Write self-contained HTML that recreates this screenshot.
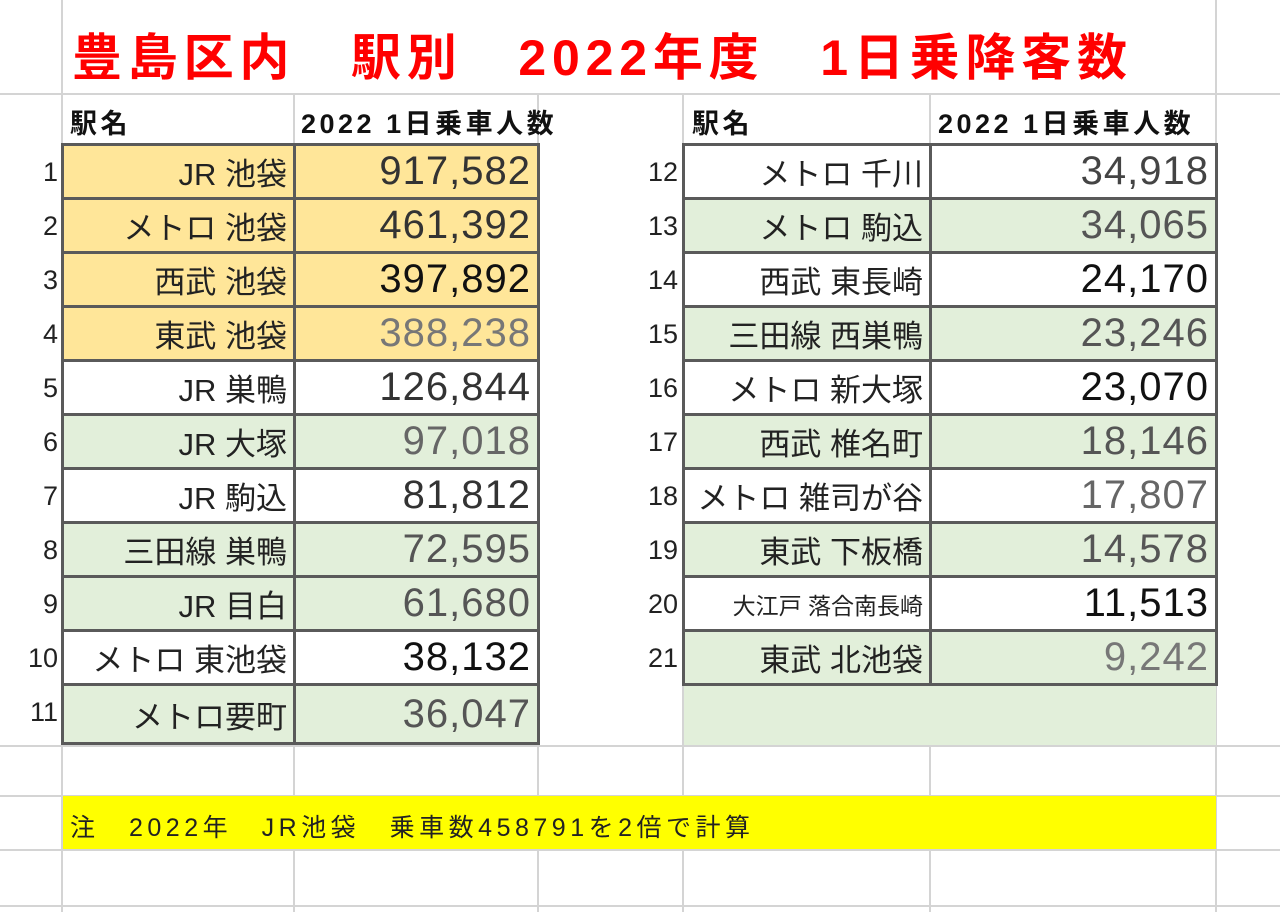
<!DOCTYPE html>
<html><head><meta charset="utf-8"><style>
body{margin:0;width:1280px;height:912px;overflow:hidden;background:#fff;font-family:"Liberation Sans","Noto Sans CJK JP",sans-serif;position:relative}
.a{position:absolute;box-sizing:border-box}
.g{background:#d4d4d4}
.c{border:3px solid #5a5a5a;display:flex;align-items:center;justify-content:flex-end;padding-right:6px;color:#222;font-size:31px}
.n{font-size:40px;padding-right:6px;color:#333;letter-spacing:1px}
.rn{font-size:27px;color:#222;text-align:right;width:58px;left:0}
.h{font-size:27px;font-weight:bold;color:#111;letter-spacing:3.5px}
</style></head><body>
<div class="a g" style="left:0;top:93px;width:1280px;height:2px"></div>
<div class="a g" style="left:0;top:745px;width:1280px;height:2px"></div>
<div class="a g" style="left:0;top:795px;width:1280px;height:2px"></div>
<div class="a g" style="left:0;top:849px;width:1280px;height:2px"></div>
<div class="a g" style="left:0;top:905px;width:1280px;height:2px"></div>
<div class="a g" style="left:61px;top:0;width:2px;height:912px"></div>
<div class="a g" style="left:293px;top:93px;width:2px;height:819px"></div>
<div class="a g" style="left:537px;top:0;width:2px;height:912px"></div>
<div class="a g" style="left:682px;top:0;width:2px;height:912px"></div>
<div class="a g" style="left:929px;top:93px;width:2px;height:819px"></div>
<div class="a g" style="left:1215px;top:0;width:2px;height:912px"></div>
<div class="a" style="left:684px;top:683px;width:532px;height:62px;background:#e2efda"></div>
<div id="rows"></div>
<div class="a" style="left:63px;top:0;width:1152px;height:93px;background:#fff"></div>
<div class="a" style="left:72px;top:18px;font-size:50px;font-weight:bold;color:#f00;white-space:pre;letter-spacing:5.8px">豊島区内　駅別　2022年度　1日乗降客数</div>
<div class="a h" style="left:70px;top:102px">駅名</div>
<div class="a h" style="left:301px;top:102px">2022 1日乗車人数</div>
<div class="a h" style="left:692px;top:102px">駅名</div>
<div class="a h" style="left:938px;top:102px">2022 1日乗車人数</div>
<div class="a" style="left:63px;top:796px;width:1153px;height:53px;background:#ffff00"></div>
<div class="a" style="left:70px;top:808px;font-size:25px;color:#222;white-space:pre;letter-spacing:4.5px">注　2022年　JR池袋　乗車数458791を2倍で計算</div>
<script>
var L=[["JR 池袋","917,582","o"],["メトロ 池袋","461,392","o"],["西武 池袋","397,892","o","#111"],["東武 池袋","388,238","o","#777"],["JR 巣鴨","126,844","w"],["JR 大塚","97,018","g","#666"],["JR 駒込","81,812","w"],["三田線 巣鴨","72,595","g","#555"],["JR 目白","61,680","g","#555"],["メトロ 東池袋","38,132","w","#111"],["メトロ要町","36,047","g","#555"]];
var R=[["メトロ 千川","34,918","w","#444"],["メトロ 駒込","34,065","g","#555"],["西武 東長崎","24,170","w","#111"],["三田線 西巣鴨","23,246","g","#555"],["メトロ 新大塚","23,070","w","#111"],["西武 椎名町","18,146","g","#555"],["メトロ 雑司が谷","17,807","w","#666"],["東武 下板橋","14,578","g","#555"],["大江戸 落合南長崎","11,513","w","#111"],["東武 北池袋","9,242","g","#777"]];
var bg={o:"#ffe699",w:"#fff",g:"#e2efda"};var h="";
function row(i,d,x0,x1,x2,num){var t=143+i*54;var hh=(num==11)?62:57;
h+='<div class="a rn" style="top:'+(t+14)+'px;'+(x0>600?'left:620px':'')+'">'+num+'</div>';
var fs=d[0].length>8?'font-size:23px;':'';
h+='<div class="a c" style="left:'+x0+'px;top:'+t+'px;width:'+(x1-x0+3)+'px;height:'+hh+'px;background:'+bg[d[2]]+';'+fs+'">'+d[0]+'</div>';
h+='<div class="a c n" style="left:'+x1+'px;top:'+t+'px;width:'+(x2-x1+3)+'px;height:'+hh+'px;background:'+bg[d[2]]+';'+(d[3]?'color:'+d[3]:'')+'">'+d[1]+'</div>';}
L.forEach(function(d,i){row(i,d,61,293,537,i+1)});
R.forEach(function(d,i){row(i,d,682,929,1215,i+12)});
document.getElementById("rows").innerHTML=h;
</script>
</body></html>
